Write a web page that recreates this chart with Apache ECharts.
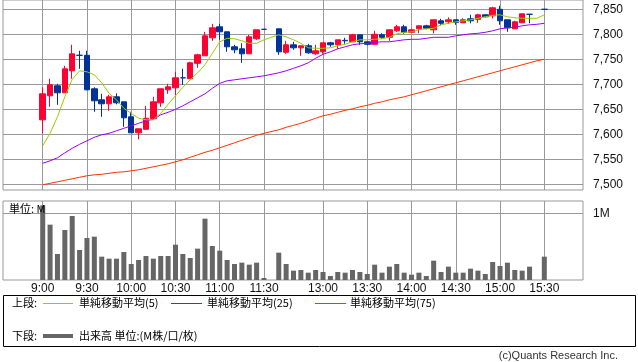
<!DOCTYPE html>
<html><head><meta charset="utf-8">
<script src="https://cdn.jsdelivr.net/npm/echarts@6/dist/echarts.min.js"></script>
<style>html,body{margin:0;padding:0;background:#fff}#c{width:638px;height:362px}</style>
</head><body><div id="c"></div>
<script>
const times = ['9:00','9:05','9:10','9:15','9:20','9:25','9:30','9:35','9:40','9:45','9:50','9:55','10:00','10:05','10:10','10:15','10:20','10:25','10:30','10:35','10:40','10:45','10:50','10:55','11:00','11:05','11:10','11:15','11:20','11:25','11:30','',
'12:30','12:35','12:40','12:45','12:50','12:55','13:00','13:05','13:10','13:15','13:20','13:25','13:30','13:35','13:40','13:45','13:50','13:55','14:00','14:05','14:10','14:15','14:20','14:25','14:30','14:35','14:40','14:45','14:50','14:55','15:00','15:05','15:10','15:15','15:20','15:25','15:30'];
const tickLabels = ['9:00','9:30','10:00','10:30','11:00','11:30','13:00','13:30','14:00','14:30','15:00','15:30'];
const priceTicks = [7500,7550,7600,7650,7700,7750,7800,7850];
const volTicks = [1];

const opens  = [7629,7677,7697,7683,7727,7758,7758,7691,7669,7661,7675,7665,7635,7603,7610,7631,7663,7689,7693,7713,7711,7742,7757,7793,7815,7805,7775,7771,7761,7791,7810,null,
7811,7764,7779,7773,7777,7761,7765,7783,7779,7788,7785,7799,7785,7780,7799,7794,7807,7815,7804,7811,7817,7809,7827,7825,7829,7823,7831,7830,7839,7837,7850,7829,7811,7823,7840,null,7850];
const closes = [7681,7699,7683,7731,7761,7758,7689,7667,7661,7675,7663,7633,7603,7611,7632,7665,7691,7695,7713,7713,7743,7759,7797,7813,7805,7775,7769,7761,7795,7809,7810,null,
7765,7779,7773,7777,7763,7767,7783,7779,7789,7787,7799,7785,7780,7800,7794,7809,7815,7804,7809,7817,7812,7829,7822,7829,7824,7829,7827,7839,7835,7853,7827,7813,7825,7841,7840,null,7850];
const lows   = [7602,7655,7659,7683,7711,7731,7688,7645,7635,7647,7660,7615,7603,7590,7610,7630,7655,7681,7679,7699,7711,7733,7757,7787,7789,7765,7762,7743,7761,7789,7810,null,
7759,7761,7769,7757,7761,7759,7761,7775,7771,7781,7785,7779,7778,7780,7791,7787,7805,7801,7804,7802,7810,7802,7818,7821,7819,7823,7822,7823,7834,7832,7819,7805,7811,7823,7822,null,7850];
const highs  = [7694,7711,7701,7737,7779,7767,7767,7694,7681,7679,7682,7665,7645,7611,7657,7675,7691,7701,7725,7731,7745,7761,7805,7821,7821,7805,7779,7782,7799,7809,7810,null,
7811,7787,7785,7777,7781,7779,7783,7785,7789,7793,7801,7799,7785,7807,7802,7809,7819,7819,7811,7817,7819,7829,7831,7834,7829,7832,7839,7841,7839,7855,7857,7829,7827,7841,7840,null,7850];
const ma5  = [7577,7602,7635,7675,7710,7727,7725,7719,7703,7682,7669,7652,7642,7632,7629,7629,7642,7660,7677,7694,7709,7723,7739,7762,7785,7792,7791,7787,7782,7782,7789,null,
7799,7795,7789,7782,7773,7772,7772,7773,7777,7780,7785,7789,7789,7790,7791,7794,7801,7804,7805,7809,7811,7812,7819,7822,7825,7827,7829,7832,7835,7838,7839,7835,7833,7832,7832,7832,7839];
const ma25 = [7542,7547,7553,7563,7572,7580,7587,7594,7599,7602,7607,7612,7617,7622,7627,7630,7639,7644,7650,7657,7665,7673,7681,7692,7702,7707,7709,7711,7713,7715,7717,null,
7723,7727,7732,7737,7743,7752,7760,7765,7771,7775,7779,7781,7782,7784,7785,7785,7787,7789,7790,7790,7792,7794,7794,7794,7797,7799,7801,7802,7804,7807,7811,7813,7814,7817,7819,7820,7822];
const ma75 = [7499,7502,7505,7508,7511,7514,7517,7519,7520,7522,7524,7525,7527,7529,7532,7535,7538,7541,7545,7549,7554,7559,7564,7568,7573,7578,7583,7588,7593,7598,7602,null,
7609,7614,7618,7622,7627,7632,7637,7640,7644,7648,7651,7655,7658,7662,7665,7669,7672,7675,7679,7683,7687,7691,7695,7699,7703,7707,7711,7715,7719,7723,7727,7731,7735,7739,7743,7747,7750];
const volume = [1.12,0.83,0.39,0.75,0.96,0.45,0.63,0.65,0.35,0.32,0.32,0.42,0.24,0.30,0.36,0.32,0.36,0.36,0.53,0.39,0.33,0.47,0.92,0.51,0.44,0.30,0.24,0.26,0.23,0.26,0.03,null,
0.41,0.24,0.14,0.15,0.11,0.15,0.12,0.06,0.12,0.11,0.15,0.12,0.09,0.23,0.11,0.20,0.24,0.11,0.08,0.11,0.06,0.29,0.12,0.20,0.11,0.11,0.17,0.14,0.09,0.27,0.21,0.26,0.15,0.14,0.20,null,0.35];

const tickIdx = tickLabels.map(t => times.indexOf(t));
const candleData = [];
times.forEach((t, i) => { if (opens[i] != null) candleData.push([i, opens[i], closes[i], lows[i], highs[i]]); });
const lineData = arr => arr.map((v, i) => [i, v]).filter(d => d[1] != null);
const volData = volume.map((v, i) => [i, v]).filter(d => d[1] != null);

const GRID = '#999999';
const FONT = 'Liberation Sans';
const CJK = 'Noto Sans CJK JP';
const xMin = -5.382, xMax = 73.245;

const chart = echarts.init(document.getElementById('c'), null, {renderer: 'canvas'});
const xBase = (gi, labels) => ({
  type: 'value', gridIndex: gi, min: xMin, max: xMax,
  axisLine: {show: false},
  axisTick: {show: false, customValues: tickIdx},
  axisLabel: labels ? {show: true, customValues: tickIdx, formatter: v => times[v], fontFamily: FONT, fontSize: 12, color: '#111', margin: 3} : {show: false},
  splitLine: {show: true, lineStyle: {color: GRID, width: 1}}
});
chart.setOption({
  animation: false,
  backgroundColor: '#fff',
  grid: [
    {left: 3, top: 0, width: 580, height: 190, show: true, borderColor: GRID, borderWidth: 1, backgroundColor: 'transparent'},
    {left: 3, top: 201, width: 580, height: 79, show: true, borderColor: GRID, borderWidth: 1, backgroundColor: 'transparent'}
  ],
  xAxis: [xBase(0, false), xBase(1, true)],
  yAxis: [
    {type: 'value', gridIndex: 0, position: 'right', min: 7488.6, max: 7868.6,
     axisLine: {show: false}, axisTick: {show: false, customValues: priceTicks},
     axisLabel: {customValues: priceTicks, formatter: v => v.toLocaleString('en-US'), fontFamily: FONT, fontSize: 12, color: '#111', margin: 10},
     splitLine: {show: true, lineStyle: {color: GRID, width: 1}}},
    {type: 'value', gridIndex: 1, position: 'right', min: 0, max: 1.185,
     axisLine: {show: false}, axisTick: {show: false, customValues: volTicks},
     axisLabel: {customValues: volTicks, formatter: v => v + 'M', fontFamily: FONT, fontSize: 12, color: '#111', margin: 10},
     splitLine: {show: true, lineStyle: {color: GRID, width: 1}}}
  ],
  series: [
    {type: 'candlestick', xAxisIndex: 0, yAxisIndex: 0, data: candleData,
     encode: {x: 0, y: [1, 2, 3, 4]}, barWidth: 6, z: 2,
     itemStyle: {color: '#ff0033', color0: '#003399', borderColor: '#ff0033', borderColor0: '#003399', borderColorDoji: '#003399', borderWidth: 1}},
    {type: 'line', xAxisIndex: 0, yAxisIndex: 0, data: lineData(ma75), showSymbol: false, symbol: 'none', z: 3,
     lineStyle: {color: '#ff3300', width: 1}},
    {type: 'line', xAxisIndex: 0, yAxisIndex: 0, data: lineData(ma25), showSymbol: false, symbol: 'none', z: 3,
     lineStyle: {color: '#9900ff', width: 1}},
    {type: 'line', xAxisIndex: 0, yAxisIndex: 0, data: lineData(ma5), showSymbol: false, symbol: 'none', z: 3,
     lineStyle: {color: '#99cc00', width: 1}},
    {type: 'bar', xAxisIndex: 1, yAxisIndex: 1, data: volData, barWidth: 5, itemStyle: {color: '#666666'}}
  ],
  graphic: [
    {type: 'text', x: 9, y: 209, z: 100, style: {text: '単位: M', font: '11px "' + CJK + '"', fill: '#000', verticalAlign: 'middle'}},
    {type: 'rect', shape: {x: 3.5, y: 295.5, width: 632, height: 51}, style: {fill: 'none', stroke: '#000', lineWidth: 1}},
    {type: 'text', x: 12, y: 303, style: {text: '上段:', font: '11px "' + CJK + '"', fill: '#000', verticalAlign: 'middle'}},
    {type: 'line', shape: {x1: 43, y1: 303.5, x2: 73, y2: 303.5}, style: {stroke: '#99cc00', lineWidth: 1}},
    {type: 'text', x: 79, y: 303, style: {text: '単純移動平均(5)', font: '11px "' + CJK + '"', fill: '#000', verticalAlign: 'middle'}},
    {type: 'line', shape: {x1: 171, y1: 303.5, x2: 202, y2: 303.5}, style: {stroke: '#9900ff', lineWidth: 1}},
    {type: 'text', x: 207, y: 303, style: {text: '単純移動平均(25)', font: '11px "' + CJK + '"', fill: '#000', verticalAlign: 'middle'}},
    {type: 'line', shape: {x1: 315, y1: 303.5, x2: 346, y2: 303.5}, style: {stroke: '#ff3300', lineWidth: 1}},
    {type: 'text', x: 350, y: 303, style: {text: '単純移動平均(75)', font: '11px "' + CJK + '"', fill: '#000', verticalAlign: 'middle'}},
    {type: 'text', x: 12, y: 336, style: {text: '下段:', font: '11px "' + CJK + '"', fill: '#000', verticalAlign: 'middle'}},
    {type: 'line', shape: {x1: 43, y1: 336, x2: 73, y2: 336}, style: {stroke: '#666666', lineWidth: 4}},
    {type: 'text', x: 79, y: 336, style: {text: '出来高 単位:(M株/口/枚)', font: '11px "' + CJK + '"', fill: '#000', verticalAlign: 'middle'}},
    {type: 'text', x: 618, y: 356, style: {text: '(c)Quants Research Inc.', font: '11px "' + FONT + '"', fill: '#333', align: 'right', verticalAlign: 'middle'}}
  ]
});
</script>
</body></html>
